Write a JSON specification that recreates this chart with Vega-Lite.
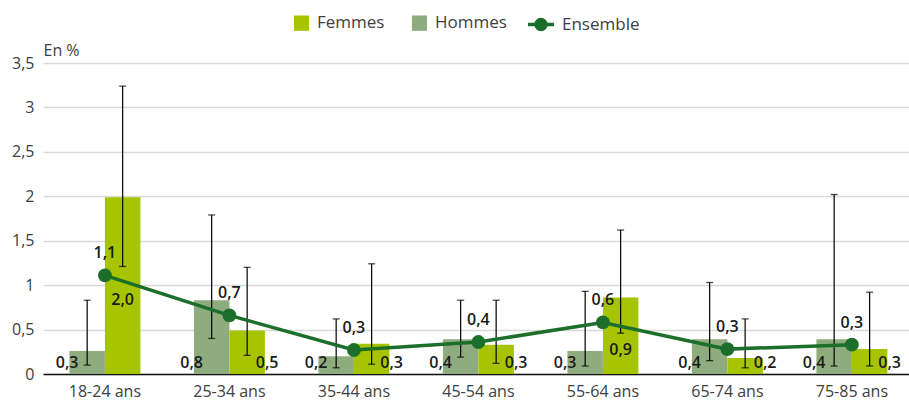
{
  "$schema": "https://vega.github.io/schema/vega-lite/v6.json",
  "width": 866,
  "height": 311,
  "autosize": {"type": "none"},
  "padding": {"left": 43, "top": 63, "right": 0, "bottom": 28},
  "config": {
    "locale": {"number": {"decimal": ",", "thousands": " ", "grouping": [3], "currency": ["", " €"]}},
    "view": {"stroke": null},
    "font": "Open Sans",
    "text": {"font": "Open Sans", "fontSize": 16, "fontWeight": 600, "color": "#1a1a1a"}
  },
  "data": {
    "values": [
      {"age": "18-24 ans", "serie": "Hommes", "value": 0.26, "lo": 0.10, "hi": 0.83},
      {"age": "25-34 ans", "serie": "Hommes", "value": 0.83, "lo": 0.40, "hi": 1.79},
      {"age": "35-44 ans", "serie": "Hommes", "value": 0.20, "lo": 0.07, "hi": 0.62},
      {"age": "45-54 ans", "serie": "Hommes", "value": 0.39, "lo": 0.19, "hi": 0.83},
      {"age": "55-64 ans", "serie": "Hommes", "value": 0.26, "lo": 0.09, "hi": 0.93},
      {"age": "65-74 ans", "serie": "Hommes", "value": 0.39, "lo": 0.15, "hi": 1.03},
      {"age": "75-85 ans", "serie": "Hommes", "value": 0.39, "lo": 0.09, "hi": 2.02},
      {"age": "18-24 ans", "serie": "Femmes", "value": 1.99, "lo": 1.21, "hi": 3.24},
      {"age": "25-34 ans", "serie": "Femmes", "value": 0.49, "lo": 0.21, "hi": 1.20},
      {"age": "35-44 ans", "serie": "Femmes", "value": 0.34, "lo": 0.11, "hi": 1.24},
      {"age": "45-54 ans", "serie": "Femmes", "value": 0.33, "lo": 0.12, "hi": 0.83},
      {"age": "55-64 ans", "serie": "Femmes", "value": 0.86, "lo": 0.46, "hi": 1.62},
      {"age": "65-74 ans", "serie": "Femmes", "value": 0.18, "lo": 0.07, "hi": 0.62},
      {"age": "75-85 ans", "serie": "Femmes", "value": 0.28, "lo": 0.09, "hi": 0.92},
      {"age": "18-24 ans", "serie": "Ensemble", "value": 1.11},
      {"age": "25-34 ans", "serie": "Ensemble", "value": 0.66},
      {"age": "35-44 ans", "serie": "Ensemble", "value": 0.27},
      {"age": "45-54 ans", "serie": "Ensemble", "value": 0.36},
      {"age": "55-64 ans", "serie": "Ensemble", "value": 0.58},
      {"age": "65-74 ans", "serie": "Ensemble", "value": 0.28},
      {"age": "75-85 ans", "serie": "Ensemble", "value": 0.33}
    ]
  },
  "encoding": {
    "x": {
      "field": "age", "type": "nominal", "sort": null,
      "scale": {"paddingInner": 0.43, "paddingOuter": 0.193, "align": 0.55},
      "axis": {
        "title": null, "labelAngle": 0, "ticks": false, "grid": false,
        "domainColor": "#111111", "domainWidth": 1.5,
        "labelFont": "Open Sans", "labelFontSize": 16, "labelColor": "#404040", "labelPadding": 9
      }
    }
  },
  "layer": [
    {
      "encoding": {
        "y": {
          "type": "quantitative",
          "scale": {"domain": [0, 3.5], "nice": false, "zero": true},
          "axis": {
            "values": [0, 0.5, 1, 1.5, 2, 2.5, 3, 3.5], "format": "~g",
            "domain": false, "ticks": false,
            "gridColor": "#D9D9D9", "gridWidth": 1.3,
            "labelFont": "Open Sans", "labelFontSize": 16, "labelColor": "#404040", "labelPadding": 9,
            "title": "En %", "titleAngle": 0, "titleAlign": "left", "titleBaseline": "middle",
            "titleX": 0, "titleY": -13, "titleFont": "Open Sans", "titleFontSize": 16,
            "titleFontWeight": "normal", "titleColor": "#404040"
          }
        }
      },
      "layer": [
        {
          "transform": [{"filter": "datum.serie !== 'Ensemble'"}],
          "mark": {"type": "bar"},
          "encoding": {
            "y": {"field": "value", "type": "quantitative"},
            "xOffset": {"field": "serie", "type": "nominal", "scale": {"domain": ["Hommes", "Femmes"], "paddingInner": 0}},
            "color": {
              "field": "serie", "type": "nominal",
              "scale": {"domain": ["Femmes", "Hommes", "Ensemble"], "range": ["#A6C400", "#8FAC7E", "#1B6F2A"]},
              "legend": {
                "orient": "none", "legendX": 238, "legendY": -55, "direction": "horizontal",
                "title": null, "padding": 0,
                "labelFont": "Open Sans", "labelFontSize": 17, "labelColor": "#404040",
                "labelOffset": 6, "columnPadding": 14, "symbolSize": 676,
                "encode": {
                  "symbols": {
                    "update": {
                      "shape": {"signal": "datum.value === 'Ensemble' ? 'M-1,0H1M-0.38,0A0.38,0.38 0 1,1 0.38,0A0.38,0.38 0 1,1 -0.38,0Z' : 'M-0.16,-0.59H1V0.59H-0.16Z'"},
                      "fill": {"scale": "color", "field": "value"},
                      "stroke": {"signal": "datum.value === 'Ensemble' ? '#1B6F2A' : 'transparent'"},
                      "strokeWidth": {"value": 3.5},
                      "opacity": {"value": 1},
                      "fillOpacity": {"value": 1}
                    }
                  }
                }
              }
            }
          }
        },
        {
          "transform": [{"filter": "datum.serie !== 'Ensemble'"}],
          "mark": {"type": "rule", "color": "#000000", "strokeWidth": 1.2},
          "encoding": {
            "xOffset": {"field": "serie", "type": "nominal"},
            "y": {"field": "lo", "type": "quantitative"},
            "y2": {"field": "hi"}
          }
        },
        {
          "transform": [{"filter": "datum.serie !== 'Ensemble'"}],
          "mark": {"type": "tick", "color": "#000000", "thickness": 1.3, "size": 7, "orient": "horizontal"},
          "encoding": {
            "xOffset": {"field": "serie", "type": "nominal"},
            "y": {"field": "lo", "type": "quantitative"}
          }
        },
        {
          "transform": [{"filter": "datum.serie !== 'Ensemble'"}],
          "mark": {"type": "tick", "color": "#000000", "thickness": 1.3, "size": 7, "orient": "horizontal"},
          "encoding": {
            "xOffset": {"field": "serie", "type": "nominal"},
            "y": {"field": "hi", "type": "quantitative"}
          }
        },
        {
          "transform": [{"filter": "datum.serie === 'Ensemble'"}],
          "mark": {"type": "line", "color": "#1B6F2A", "strokeWidth": 3.5},
          "encoding": {"y": {"field": "value", "type": "quantitative"}}
        },
        {
          "transform": [{"filter": "datum.serie === 'Ensemble'"}],
          "mark": {"type": "circle", "color": "#1B6F2A", "size": 190, "opacity": 1},
          "encoding": {"y": {"field": "value", "type": "quantitative"}}
        },
        {
          "transform": [{"filter": "datum.serie === 'Ensemble'"}],
          "mark": {"type": "text", "dy": -22, "baseline": "middle"},
          "encoding": {
            "y": {"field": "value", "type": "quantitative"},
            "text": {"field": "value", "type": "quantitative", "format": ".1f"}
          }
        },
        {
          "transform": [{"filter": "datum.serie === 'Hommes'"}],
          "mark": {"type": "text", "dx": -20, "dy": -11, "baseline": "middle"},
          "encoding": {
            "xOffset": {"field": "serie", "type": "nominal"},
            "y": {"datum": 0},
            "text": {"field": "value", "type": "quantitative", "format": ".1f"}
          }
        },
        {
          "transform": [{"filter": "datum.serie === 'Femmes' && datum.value < 0.6"}],
          "mark": {"type": "text", "dx": 20, "dy": -11, "baseline": "middle"},
          "encoding": {
            "xOffset": {"field": "serie", "type": "nominal"},
            "y": {"datum": 0},
            "text": {"field": "value", "type": "quantitative", "format": ".1f"}
          }
        }
      ]
    },
    {
      "transform": [{"filter": "datum.serie === 'Femmes' && datum.value >= 0.6"}],
      "mark": {"type": "text", "dy": 14, "baseline": "middle"},
      "encoding": {
        "xOffset": {"field": "serie", "type": "nominal"},
        "y": {"field": "value", "type": "quantitative", "scale": {"domain": [0, 7], "nice": false}, "axis": null},
        "text": {"field": "value", "type": "quantitative", "format": ".1f"}
      }
    }
  ],
  "resolve": {"scale": {"y": "independent"}}
}
